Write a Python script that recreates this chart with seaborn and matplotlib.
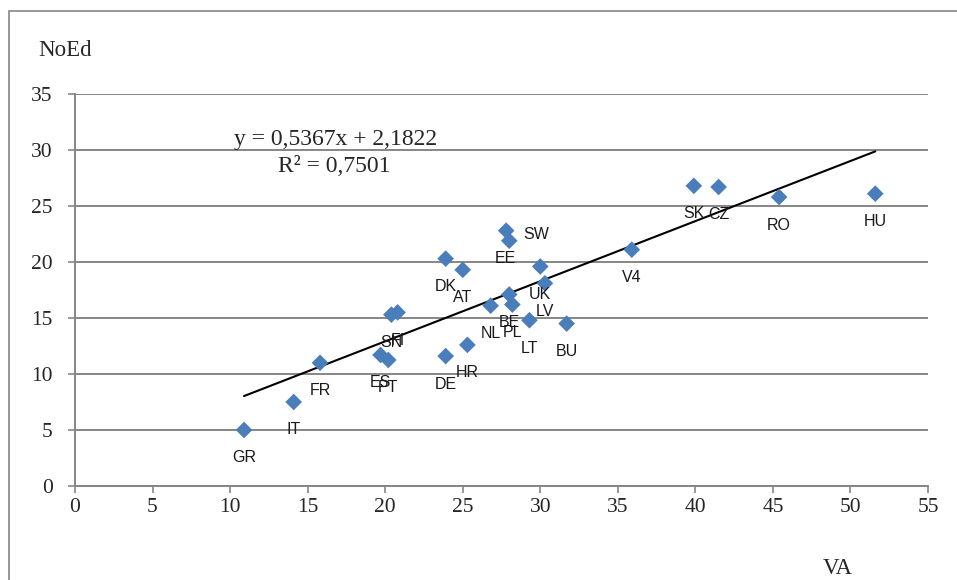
import numpy as np
import pandas as pd
import matplotlib
matplotlib.use("Agg")
import matplotlib.pyplot as plt
import matplotlib.patches as patches
import seaborn as sns

# data
countries = ["GR", "IT", "FR", "ES", "PT", "SN", "FI", "DK", "AT", "DE", "HR", "NL",
             "SW", "EE", "BE", "PL", "UK", "LV", "LT", "BU", "V4", "SK", "CZ", "RO", "HU"]
va = [10.9, 14.1, 15.8, 19.7, 20.2, 20.4, 20.8, 23.9, 25.0, 23.9, 25.3, 26.8,
      27.8, 28.0, 28.0, 28.2, 30.0, 30.3, 29.3, 31.7, 35.9, 39.9, 41.5, 45.4, 51.6]
noed = [5.0, 7.5, 11.0, 11.7, 11.25, 15.3, 15.5, 20.3, 19.3, 11.6, 12.6, 16.1,
        22.8, 21.9, 17.1, 16.2, 19.6, 18.1, 14.8, 14.5, 21.1, 26.8, 26.7, 25.8, 26.1]
slope = 0.5367
intercept = 2.1822
r2 = 0.7501

df = pd.DataFrame({"Country": countries, "VA": va, "NoEd": noed})

# label offsets in pixels (most labels sit under the marker)
label_offset = {c: (0, -28) for c in countries}
label_offset["SW"] = (30, -4)
label_offset["EE"] = (-4, -18)

sns.set_style("white")
grey = "#868686"

fig = plt.figure(figsize=(9.57, 5.80), dpi=100)
ax = fig.add_axes([75 / 957, 1 - 486 / 580, 853 / 957, 392 / 580])

# chart border
fig.patches.append(patches.Rectangle((9 / 957, -0.2), 1.2, 1.2 - 11 / 580,
                                     transform=fig.transFigure, fill=False,
                                     edgecolor=grey, linewidth=1.2))

sns.scatterplot(data=df, x="VA", y="NoEd", marker="D", s=72, color="#4A7EBB",
                edgecolor="none", ax=ax, zorder=3)

# linear trend line over the data range
xs = np.array([df.VA.min(), df.VA.max()])
sns.lineplot(x=xs, y=slope * xs + intercept, color="black", linewidth=1.5, ax=ax, zorder=2)

for c, x, y in zip(countries, va, noed):
    dx, dy = label_offset[c]
    ax.annotate(c, (x, y), xytext=(dx, dy), textcoords="offset pixels",
                ha="center", va="center", fontsize=11.5, family="Liberation Sans",
                color="#1a1a1a")

ax.set_xlim(0, 55)
ax.set_ylim(0, 35)
ax.set_xticks(range(0, 56, 5))
ax.set_yticks(range(0, 36, 5))
ax.yaxis.grid(True, color=grey, linewidth=1.4)
ax.set_axisbelow(True)
for s in ["top", "right"]:
    ax.spines[s].set_visible(False)
for s in ["left", "bottom"]:
    ax.spines[s].set_color(grey)
    ax.spines[s].set_linewidth(1.4)
ax.tick_params(axis="both", which="major", direction="out", length=5, width=1.2,
               color=grey, labelsize=15.5)
ax.tick_params(axis="y", pad=11)
ax.tick_params(axis="x", pad=4)
ax.tick_params(bottom=True, left=True)
for lab in ax.get_xticklabels() + ax.get_yticklabels():
    lab.set_family("Liberation Serif")
ax.set_xlabel("")
ax.set_ylabel("")

fig.text(65 / 957, 1 - 50 / 580, "NoEd", ha="center", va="center", fontsize=16.5,
         family="Liberation Serif")
fig.text(838 / 957, 1 - 568 / 580, "VA", ha="center", va="center", fontsize=16.5,
         family="Liberation Serif")

ax.text(0.305, 0.885, "y = 0,5367x + 2,1822", transform=ax.transAxes, ha="center",
        va="center", fontsize=17, family="Liberation Serif")
ax.text(0.304, 0.814, "R² = " + str(r2).replace(".", ","), transform=ax.transAxes,
        ha="center", va="center", fontsize=17, family="Liberation Serif")

fig.savefig("out.png", dpi=100)
